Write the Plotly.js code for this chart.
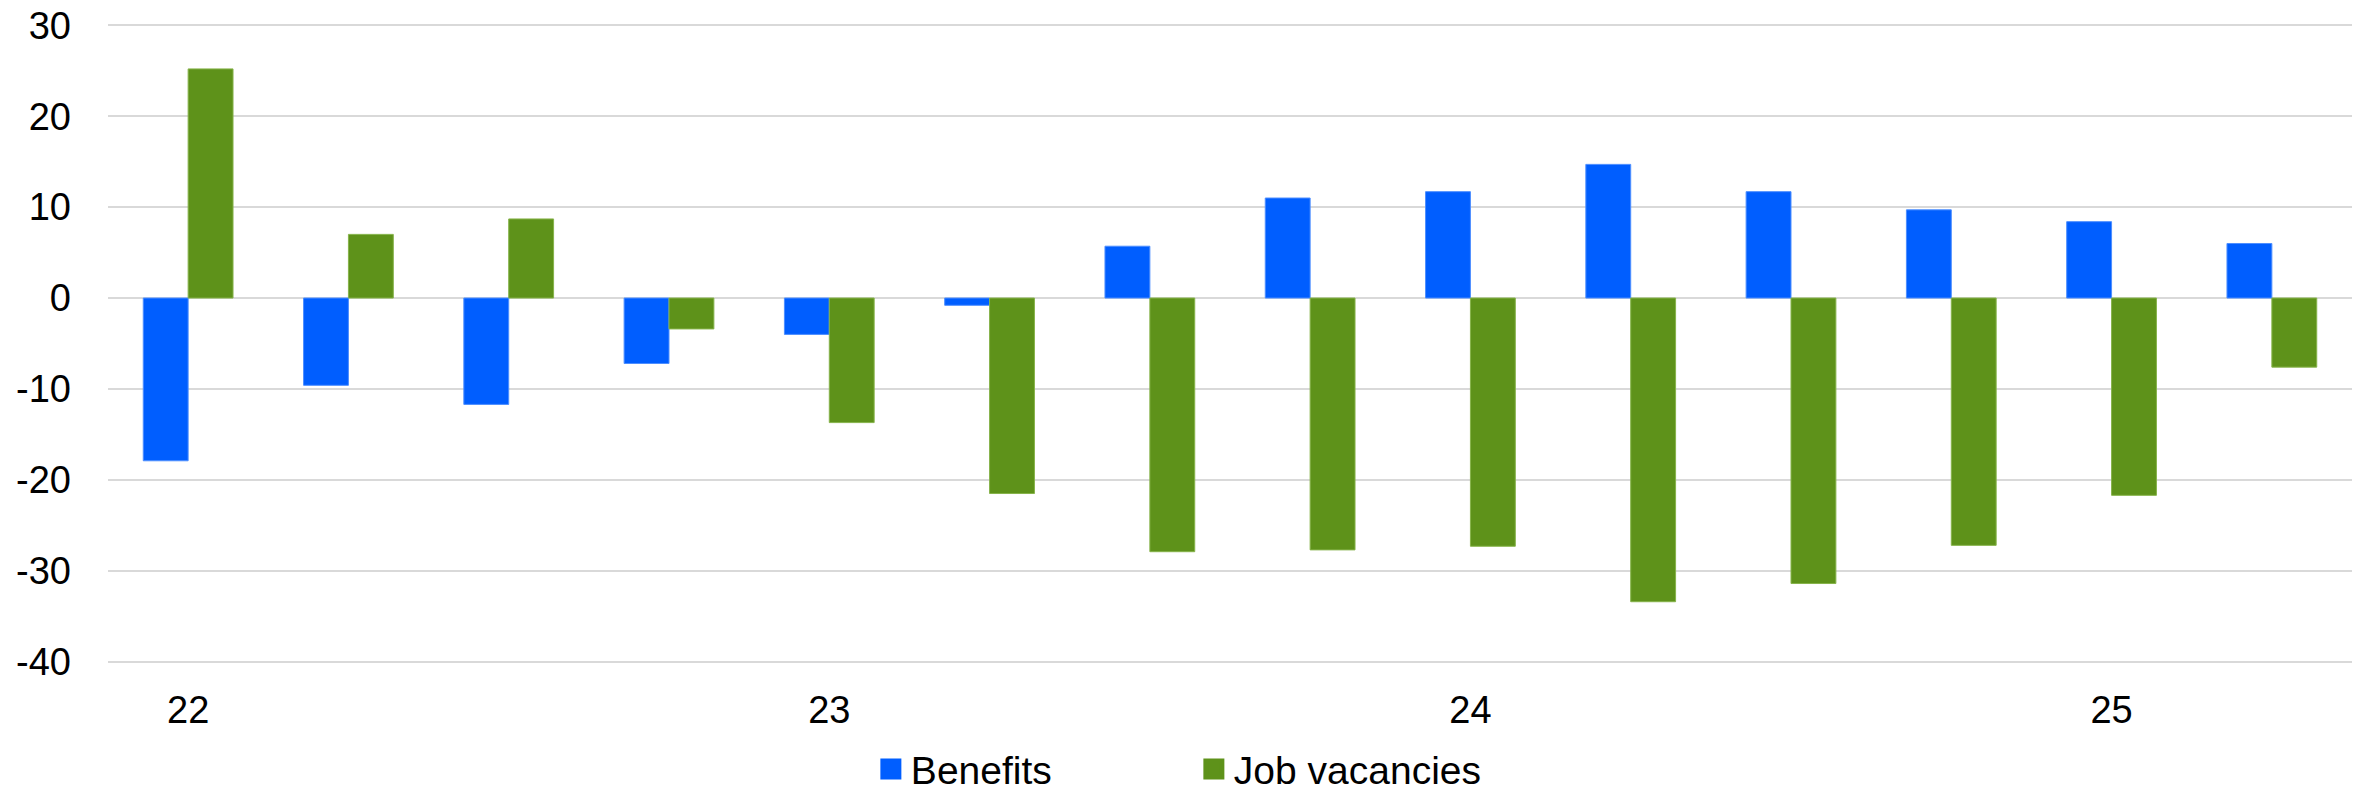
<!DOCTYPE html>
<html>
<head>
<meta charset="utf-8">
<script src="https://cdn.plot.ly/plotly-3.0.1.min.js"></script>
<style>
  html, body { margin: 0; padding: 0; background: #ffffff; }
  #chart { width: 2364px; height: 793px; }
</style>
</head>
<body>
<div id="chart"></div>
<script>
// Quarters from 2022Q1 to 2025Q2
const categories = ["22Q1","22Q2","22Q3","22Q4","23Q1","23Q2","23Q3","23Q4","24Q1","24Q2","24Q3","24Q4","25Q1","25Q2"];
const benefits = [-17.9, -9.6, -11.7, -7.2, -4.0, -0.8, 5.7, 11.0, 11.7, 14.7, 11.7, 9.7, 8.4, 6.0];
const jobVacancies = [25.2, 7.0, 8.7, -3.4, -13.7, -21.5, -27.9, -27.7, -27.3, -33.4, -31.4, -27.2, -21.7, -7.6];
const tickCategories = ["22Q1","23Q1","24Q1","25Q1"];
const tickLabels = ["22","23","24","25"];
const yTicks = [-40, -30, -20, -10, 0, 10, 20, 30];
const seriesNames = ["Benefits","Job vacancies"];
const seriesColors = ["#005EFF", "#5E921A"];
const seriesEdges = ["#4D8EFF", "#86B34A"];

const FONT = "Liberation Sans, Arial, sans-serif";

const traces = [
  {
    type: "bar",
    name: seriesNames[0],
    x: categories,
    y: benefits,
    marker: { color: seriesColors[0], line: { color: seriesEdges[0], width: 1 } },
    showlegend: false,
    legendgroup: "b"
  },
  {
    type: "bar",
    name: seriesNames[1],
    x: categories,
    y: jobVacancies,
    marker: { color: seriesColors[1], line: { color: seriesEdges[1], width: 1 } },
    showlegend: false,
    legendgroup: "j"
  },
  // legend-only entries (larger square keys)
  {
    type: "scatter",
    mode: "markers",
    name: seriesNames[0],
    x: [null],
    y: [null],
    marker: { symbol: "square", size: 16, color: seriesColors[0], line: { color: seriesColors[0], width: 5 } },
    legendgroup: "b"
  },
  {
    type: "scatter",
    mode: "markers",
    name: seriesNames[1],
    x: [null],
    y: [null],
    marker: { symbol: "square", size: 16, color: seriesColors[1], line: { color: seriesColors[1], width: 5 } },
    legendgroup: "j"
  }
];

const layout = {
  width: 2364,
  height: 793,
  paper_bgcolor: "#ffffff",
  plot_bgcolor: "#ffffff",
  margin: { l: 108, r: 12, t: 23, b: 129 },
  barmode: "group",
  bargap: 0.44,
  bargroupgap: 0,
  font: { family: FONT, size: 38, color: "#000000" },
  xaxis: {
    type: "category",
    categoryorder: "array",
    categoryarray: categories,
    tickmode: "array",
    tickvals: tickCategories,
    ticktext: tickLabels,
    showgrid: false,
    showline: false,
    zeroline: false,
    ticks: "",
    ticklabelstandoff: 20,
    tickfont: { family: FONT, size: 38, color: "#000000" },
    range: [-0.5, 13.5],
    fixedrange: true
  },
  yaxis: {
    range: [-40.25, 30.25],
    tickmode: "array",
    tickvals: yTicks,
    ticktext: yTicks.map(String),
    showgrid: true,
    gridcolor: "#d9d9d9",
    gridwidth: 2,
    zeroline: true,
    zerolinecolor: "#d9d9d9",
    zerolinewidth: 2,
    showline: false,
    ticks: "",
    ticklabelstandoff: 36,
    tickfont: { family: FONT, size: 38, color: "#000000" },
    fixedrange: true
  },
  showlegend: true,
  legend: {
    orientation: "h",
    xref: "paper",
    x: 0.4839,
    xanchor: "center",
    yref: "container",
    y: 0.03,
    yanchor: "middle",
    font: { family: FONT, size: 39, color: "#000000" },
    entrywidth: 278,
    entrywidthmode: "pixels",
    itemsizing: "trace",
    bgcolor: "rgba(0,0,0,0)"
  }
};

Plotly.newPlot("chart", traces, layout, { displayModeBar: false, staticPlot: true });
</script>
</body>
</html>
